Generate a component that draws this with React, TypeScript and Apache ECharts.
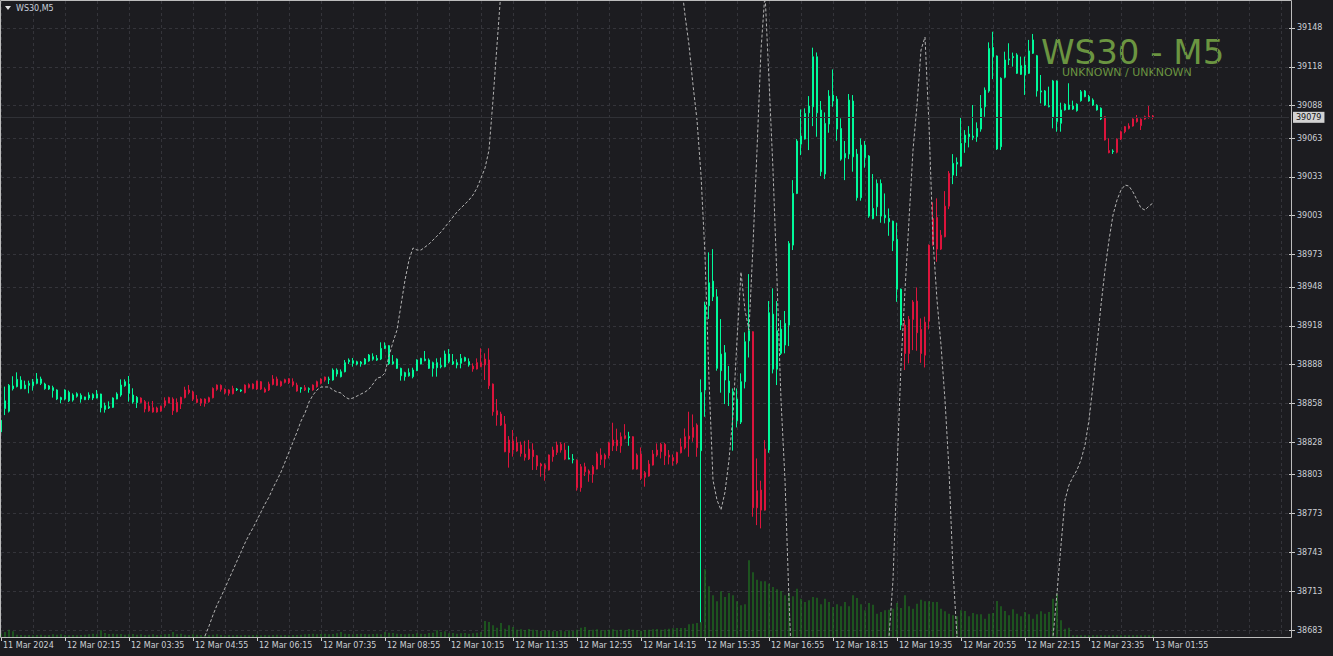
import React, { useEffect, useRef } from "react";
import * as echarts from "echarts";

const N = null;

// x-axis tick labels, one every 16 bars (bar 0 = 11 Mar 23:55)
const timeLabels = [
  "11 Mar 2024", "12 Mar 02:15", "12 Mar 03:35", "12 Mar 04:55", "12 Mar 06:15",
  "12 Mar 07:35", "12 Mar 08:55", "12 Mar 10:15", "12 Mar 11:35", "12 Mar 12:55",
  "12 Mar 14:15", "12 Mar 15:35", "12 Mar 16:55", "12 Mar 18:15", "12 Mar 19:35",
  "12 Mar 20:55", "12 Mar 22:15", "12 Mar 23:35", "13 Mar 01:55",
];

const priceTicks = [
  39148, 39118, 39088, 39063, 39033, 39003, 38973, 38948, 38918, 38888,
  38858, 38828, 38803, 38773, 38743, 38713, 38683,
];

// trend colouring runs (G = green, R = red)
const trendRuns: [string, number][] = [
  ["G", 35], ["R", 24], ["G", 2], ["R", 14], ["G", 1], ["R", 1], ["G", 1], ["R", 4],
  ["G", 36], ["R", 24], ["G", 2], ["R", 13], ["G", 1], ["R", 17], ["G", 13], ["R", 4],
  ["G", 34], ["R", 12], ["G", 38], ["R", 2], ["G", 1], ["R", 10],
];

const bodyTop = [
  38845, 38860, 38872, 38871.5, 38876.6, 38876, 38872.2, 38873.5, 38874.6, 38876.9,
  38876.9, 38873, 38871.5, 38870.2, 38868.4, 38862.5, 38868.4, 38866.6, 38864.5, 38865.5,
  38864.3, 38863, 38864.5, 38864.8, 38865.3, 38865.3, 38856.3, 38855.5, 38862.2, 38865.3,
  38872.2, 38874.8, 38873, 38864.5, 38862.7, 38862.2, 38859.4, 38856, 38854.7, 38854.5,
  38855.8, 38860.1, 38862.5, 38861.4, 38858.8, 38862.7, 38868.4, 38868.4, 38866.8, 38861.4,
  38861.4, 38861.4, 38862.4, 38869.6, 38872.2, 38872, 38868.9, 38868.4, 38869.6, 38869.1,
  38868.4, 38872.2, 38872.5, 38873, 38875.3, 38874.8, 38869.1, 38873, 38876.9, 38876.9,
  38874.8, 38876.3, 38877.1, 38874.8, 38872.2, 38870.2, 38870.2, 38869.4, 38872.2, 38874.8,
  38876.9, 38878.4, 38876.9, 38883.8, 38883.8, 38882.5, 38889.5, 38891.5, 38891, 38890.2,
  38890, 38892.3, 38895.4, 38894.1, 38892.8, 38900.5, 38902.6, 38902.6, 38890.2, 38892.3,
  38885.1, 38881.8, 38881.8, 38883.8, 38891.6, 38892.8, 38892.3, 38891.6, 38889.5, 38889.5,
  38887.2, 38896.2, 38896.2, 38890.3, 38889.5, 38892.8, 38893.4, 38890.3, 38886.9, 38889.5,
  38889.5, 38892.3, 38891.6, 38873, 38852.4, 38849.8, 38842.1, 38829.8, 38829, 38827.7,
  38825.9, 38818.9, 38822.8, 38822, 38817.6, 38811.2, 38810.4, 38818.2, 38822, 38825.9,
  38826.4, 38822, 38815.8, 38815, 38814.2, 38809.1, 38809.1, 38805.8, 38809.1, 38819.1,
  38818.1, 38818.1, 38827.6, 38829.7, 38829.7, 38832.3, 38833.1, 38832.3, 38832.3, 38818.1,
  38818.9, 38804.5, 38811.2, 38818.9, 38822, 38826.4, 38826.4, 38818.1, 38816.1, 38820.2,
  38824.5, 38832.3, 38832.8, 38839.5, 38841.3, 38866.5, 38934, 38951.2, 38952.5, 38940.4,
  38896.1, 38897.2, 38875.3, 38867.1, 38861.4, 38874.8, 38905.7, 38914.2, 38913.4, 38790.6,
  38791.1, 38822.8, 38928.1, 38927, 38914.2, 38915.4, 38919.8, 38981.6, 39020.2, 39060.7,
  39064.5, 39082, 39087.7, 39125.8, 39125.8, 39084.6, 39074.3, 39095.4, 39096.2, 39093.1,
  39070.4, 39051.1, 39092.3, 39091.6, 39050.6, 39057.6, 39057.6, 39049.1, 39008.6, 39027.9,
  39027.9, 39003.5, 39000.9, 38998.8, 38984.9, 38946.3, 38918.5, 38922.9, 38936.3, 38937.1,
  38915.2, 38920.8, 38980.3, 39000.9, 39001.7, 38988, 39010.4, 39035.7, 39043.4, 39044.2,
  39058.9, 39065.3, 39066.1, 39064.5, 39070.4, 39085.9, 39100, 39132.2, 39133, 39126.4,
  39109.1, 39123.3, 39124.1, 39125.9, 39127.2, 39118.9, 39119.4, 39130.3, 39138.8, 39126.6,
  39099.4, 39099.4, 39088, 39107.1, 39107.1, 39084.7, 39089.1, 39088.5, 39087.8, 39089.1,
  39098.8, 39099.4, 39095, 39092.4, 39088.3, 39086, 39079.5, 39053.3, 39053, 39062,
  39067.9, 39071.8, 39072.3, 39077.7, 39078.2, 39077.5, 39079.5, 39080, 39080,
];

const bodyBottom = [
  38836, 38854, 38852, 38869.4, 38871, 38869.4, 38869.4, 38872, 38871.7, 38873.5,
  38873.5, 38869.4, 38869.1, 38867.9, 38861.4, 38860.9, 38861.4, 38860.1, 38860.6, 38863.5,
  38861.4, 38860.9, 38862.2, 38862.2, 38862.2, 38854.7, 38853.4, 38854.5, 38855, 38861.4,
  38864.5, 38871.7, 38865.8, 38859.1, 38858.6, 38858.8, 38853.7, 38852.4, 38851.4, 38851.4,
  38852.2, 38856.3, 38858.3, 38852.4, 38851.6, 38857.6, 38862.5, 38866.3, 38861.4, 38858.8,
  38858.3, 38858.1, 38859.3, 38862.4, 38868.9, 38868.9, 38866.3, 38865.8, 38865.5, 38868.6,
  38867.6, 38866.3, 38870.4, 38869.4, 38869.1, 38869.1, 38866.8, 38868.4, 38872.7, 38872,
  38871.7, 38874.3, 38874, 38872.2, 38867.6, 38869.4, 38868.4, 38868.9, 38868.4, 38870.9,
  38873.5, 38876.1, 38876.3, 38876.1, 38880.7, 38878.7, 38882.5, 38890.2, 38889, 38888.4,
  38888.7, 38888.4, 38890.8, 38892.1, 38891.5, 38892.3, 38900.5, 38888.7, 38888.7, 38885.1,
  38879.4, 38878.7, 38879.4, 38878.7, 38883.3, 38888.5, 38891, 38885.1, 38885.1, 38885.6,
  38886.4, 38886.4, 38890.3, 38888.5, 38887.7, 38889, 38890.8, 38887.7, 38884.6, 38884.6,
  38886.4, 38887.7, 38871.7, 38851.6, 38849.1, 38841.3, 38820.7, 38820, 38822, 38821.3,
  38819.4, 38816.4, 38815.1, 38816.9, 38809.7, 38809.7, 38807.6, 38806.6, 38816.9, 38820.2,
  38822, 38815, 38815, 38814.5, 38792.9, 38792.9, 38805.2, 38803.9, 38803.4, 38807.3,
  38814.8, 38815, 38817.6, 38825.3, 38825.3, 38825.3, 38831, 38831.5, 38807.3, 38807.3,
  38800.1, 38800.9, 38801.9, 38810.4, 38818.1, 38820.7, 38817.6, 38816.6, 38813.5, 38812.2,
  38819.9, 38823.8, 38830.5, 38831.8, 38823.8, 38821.5, 38868.3, 38933.5, 38940.4, 38885.1,
  38883.3, 38876.1, 38866.3, 38864.5, 38844.6, 38843.6, 38874.8, 38906.4, 38777.4, 38777.4,
  38775.6, 38775.6, 38822, 38884.5, 38884.5, 38896.7, 38903.1, 38918.5, 38980.3, 39020.2,
  39058.3, 39062.2, 39082.5, 39087.2, 39082.5, 39037, 39035.2, 39073.8, 39091.6, 39069.9,
  39046.7, 39047.8, 39050.6, 39048.5, 39016.9, 39016.9, 39047.8, 39002.7, 39000.7, 39009.9,
  39002.7, 39001.4, 38998.3, 38983.7, 38946.3, 38918.5, 38896.6, 38896.6, 38922.9, 38912.6,
  38896.6, 38895.3, 38921.6, 38980.3, 38977.2, 38977.2, 38986.7, 39010.4, 39034.4, 39042.9,
  39041.3, 39059.6, 39064, 39063.5, 39064, 39069.9, 39087.2, 39099.3, 39125.8, 39054.5,
  39056.3, 39109.9, 39123.3, 39125.1, 39113, 39112.2, 39111.7, 39113, 39128.5, 39099.4,
  39098.6, 39088.5, 39087.2, 39078.8, 39075.7, 39074.4, 39084.7, 39085.2, 39085.4, 39084.2,
  39091.9, 39095, 39091.6, 39088.5, 39084.7, 39077.7, 39061.5, 39051.7, 39052.5, 39052,
  39062.3, 39067.9, 39070.5, 39072.3, 39075.7, 39072.6, 39077.7, 39078.8, 39079,
];

const highs = [
  38847, 38871, 38873, 38879, 38882, 38879, 38875.6, 38875.6, 38876.9, 38881.5,
  38878.7, 38874, 38872.2, 38871.7, 38868.9, 38863.2, 38868.9, 38867.9, 38865.8, 38866.6,
  38865.8, 38863.2, 38866.6, 38865.8, 38868.4, 38865.5, 38858.6, 38859.6, 38862.7, 38866.6,
  38876.6, 38876.6, 38879.2, 38869.7, 38863.7, 38862.7, 38860.6, 38859.4, 38859.9, 38855.5,
  38856.3, 38862.7, 38863.2, 38862.7, 38861.9, 38863.2, 38870.9, 38872.2, 38867.9, 38864.5,
  38861.9, 38861.9, 38863.2, 38870.4, 38872.7, 38872.7, 38869.6, 38868.9, 38871.7, 38869.9,
  38868.9, 38872.7, 38873.5, 38873.5, 38875.6, 38875.3, 38870.4, 38874.8, 38879.9, 38878.7,
  38875.6, 38877.1, 38877.6, 38877.4, 38874, 38870.4, 38872.2, 38870.4, 38872.7, 38875.6,
  38877.4, 38878.7, 38878.7, 38885.1, 38885.1, 38884.3, 38891.5, 38892.8, 38893.1, 38891,
  38890.8, 38893.1, 38896.2, 38896.7, 38895.4, 38905.2, 38905.2, 38903.1, 38895.4, 38892.8,
  38885.6, 38882.5, 38885.1, 38885.6, 38892.1, 38893.2, 38898.5, 38892.8, 38890.3, 38892.8,
  38893.4, 38898.8, 38900, 38896.2, 38892.1, 38896.2, 38894.1, 38892.8, 38889, 38892.8,
  38900.6, 38896.7, 38900.6, 38873.4, 38861.4, 38851.6, 38848.3, 38832.8, 38837.5, 38832.3,
  38828.5, 38829.2, 38829.8, 38827.2, 38818.2, 38812.2, 38811.7, 38818.6, 38824.6, 38828.5,
  38828, 38827.6, 38825.3, 38818.9, 38814.8, 38811.2, 38812.2, 38807, 38810.4, 38820.7,
  38823.3, 38819.4, 38828.4, 38843.1, 38838.5, 38835.6, 38842, 38836.1, 38832.7, 38819.4,
  38824, 38805.8, 38814.2, 38822, 38827.1, 38827.6, 38827.6, 38822, 38818.6, 38820.7,
  38831, 38838.7, 38851.6, 38849.5, 38842.6, 38876.6, 38936.6, 38974.7, 38977.2, 38946.3,
  38923.2, 38903.1, 38886.9, 38869.6, 38869.6, 38881.2, 38912.9, 38957.9, 38913.8, 38815.5,
  38798.3, 38829.7, 38937.1, 38946.9, 38937.1, 38922.4, 38929.4, 38983.4, 39030.5, 39062.2,
  39085.1, 39085.9, 39095.4, 39132.8, 39129.1, 39091.6, 39082.8, 39100, 39116, 39095.4,
  39078.2, 39060.7, 39097, 39096.2, 39054.5, 39062.7, 39060.7, 39049.8, 39035.2, 39031,
  39031, 39020.2, 39008.6, 38999.2, 38997.6, 38946.7, 38922.4, 38925.5, 38937.8, 38947.6,
  38923.7, 38925, 38980.8, 39013.3, 39016.4, 38991.9, 39022, 39037.5, 39050.6, 39048,
  39078.7, 39069.1, 39072.2, 39088.5, 39075.1, 39096.2, 39102.1, 39136.9, 39145.1, 39126.8,
  39109.9, 39129.7, 39136.2, 39129, 39128.5, 39125.9, 39125.9, 39138.8, 39143.4, 39127.2,
  39111.7, 39100.1, 39102.7, 39107.9, 39107.5, 39090.3, 39089.8, 39105.3, 39091.9, 39089.8,
  39100.1, 39100.1, 39096.3, 39093.7, 39089.1, 39086.7, 39080, 39062.8, 39054.3, 39062.8,
  39068.7, 39072.3, 39074.4, 39078.2, 39080.8, 39078.2, 39080.3, 39087.8, 39080.8,
];

const lows = [
  38833, 38849, 38851, 38868, 38870.4, 38869, 38869, 38865.8, 38867.9, 38872.8,
  38872.2, 38868.6, 38868.4, 38862.5, 38860.6, 38858.1, 38860.4, 38859.1, 38859.4, 38862.5,
  38858.6, 38860.6, 38860.6, 38860.6, 38861.9, 38851.1, 38850.9, 38853.7, 38854.5, 38861.2,
  38863.2, 38870.9, 38859.4, 38857.8, 38854.5, 38858.1, 38851.1, 38851.6, 38850.9, 38850.9,
  38851.6, 38854.7, 38858.1, 38849.1, 38851.1, 38853.7, 38861.9, 38865, 38859.9, 38858.1,
  38856, 38855.5, 38858.6, 38861.9, 38867.8, 38867.1, 38865, 38864, 38865, 38867.6,
  38866.8, 38865.8, 38869.6, 38868.9, 38868.4, 38868.4, 38866.3, 38867.6, 38872, 38871.4,
  38870.9, 38873.5, 38873, 38870.9, 38867.1, 38866.3, 38867.6, 38866.3, 38867.8, 38870.2,
  38872.7, 38874.8, 38873, 38875.6, 38878.7, 38878.1, 38882, 38888.4, 38886.4, 38887.4,
  38886.4, 38887.9, 38890.2, 38891, 38890.8, 38891.5, 38900, 38887.7, 38887.9, 38884.6,
  38875.6, 38875.6, 38878.7, 38877.4, 38883, 38888.2, 38890.6, 38884.6, 38878.7, 38878.7,
  38885.1, 38885.9, 38889, 38887.7, 38885.1, 38885.1, 38890.3, 38886.4, 38882.5, 38884.2,
  38886, 38876.1, 38869.1, 38848.5, 38840.8, 38840.6, 38820.3, 38808.4, 38816.9, 38820.7,
  38816.9, 38813.8, 38814.3, 38806.6, 38806.6, 38801.4, 38798.3, 38806.2, 38813, 38818.2,
  38820, 38814.2, 38814.8, 38811.7, 38790.6, 38789.8, 38801.9, 38797.5, 38796.7, 38807,
  38810.4, 38808.3, 38815.5, 38821.2, 38821.2, 38819.9, 38830.2, 38825.3, 38806.9, 38806.9,
  38798.8, 38793.7, 38801.4, 38810, 38816.8, 38815.5, 38810.4, 38810.9, 38809.9, 38810.9,
  38819.4, 38822.5, 38816.8, 38828.4, 38816.8, 38689, 38847.7, 38923.2, 38937.1, 38883.3,
  38866.3, 38857.5, 38856, 38821.5, 38839.5, 38842.1, 38869.6, 38893.5, 38770.5, 38764,
  38761.5, 38775.2, 38819.9, 38881.2, 38872.2, 38895.4, 38896.7, 38902.3, 38976.5, 39019.7,
  39049.8, 39061.8, 39053.7, 39072.2, 39064, 39033.6, 39031.3, 39067.1, 39087.2, 39060.9,
  39045.5, 39030.5, 39046.7, 39037, 39014.6, 39014.6, 39040.1, 39001.4, 39000.3, 39002.7,
  38997.6, 38997.1, 38987.5, 38975.7, 38936.5, 38914.7, 38883.8, 38888.9, 38899.2, 38898.7,
  38889.4, 38885.8, 38915.2, 38979.9, 38967.4, 38976.5, 38986.3, 39008.1, 39027.4, 39033.6,
  39040.9, 39051.6, 39055.8, 39061.4, 39060.1, 39067.9, 39079.4, 39098, 39108.5, 39053.8,
  39053.8, 39109.1, 39119.4, 39118.2, 39112.5, 39111.7, 39096.3, 39112.5, 39127.9, 39095,
  39089.8, 39087.8, 39086.7, 39070.5, 39067.9, 39067.9, 39084.2, 39084.7, 39084.7, 39083.4,
  39091.1, 39094.5, 39091.1, 39087.8, 39084.2, 39076.9, 39061.1, 39051.2, 39050.7, 39051.2,
  39061.5, 39066.7, 39069.7, 39071.8, 39074.9, 39069.2, 39077.2, 39078, 39077.5,
];

const volumes = [
  33, 50, 73, 57, 23, 20, 17, 20, 17, 20,
  23, 17, 20, 27, 23, 27, 20, 17, 20, 17,
  20, 23, 27, 33, 27, 67, 40, 30, 33, 27,
  30, 23, 27, 30, 23, 27, 20, 23, 27, 20,
  23, 27, 30, 50, 27, 33, 23, 20, 27, 23,
  20, 17, 20, 23, 27, 20, 17, 20, 17, 20,
  17, 20, 17, 20, 23, 17, 20, 17, 20, 23,
  17, 20, 17, 20, 20, 23, 27, 30, 33, 27,
  30, 33, 27, 30, 37, 50, 33, 30, 27, 30,
  33, 30, 27, 30, 33, 27, 50, 43, 40, 33,
  30, 27, 33, 30, 37, 33, 30, 40, 43, 67,
  50, 57, 37, 40, 33, 37, 40, 33, 37, 43,
  50, 160, 150, 117, 93, 140, 83, 117, 100, 73,
  77, 70, 80, 73, 67, 60, 70, 63, 57, 60,
  63, 57, 67, 60, 73, 93, 100, 70, 73, 77,
  67, 70, 73, 77, 70, 73, 67, 80, 73, 70,
  63, 70, 73, 77, 80, 73, 77, 83, 87, 90,
  90, 90, 127, 133, 140, 150, 677, 507, 417, 357,
  457, 400, 440, 417, 357, 317, 327, 767, 647, 573,
  557, 557, 533, 500, 477, 460, 417, 440, 407, 483,
  383, 350, 367, 400, 393, 327, 383, 350, 300, 327,
  307, 350, 307, 417, 390, 327, 267, 340, 323, 233,
  250, 267, 273, 283, 340, 290, 417, 307, 283, 333,
  373, 357, 357, 350, 350, 283, 257, 233, 217, 207,
  267, 260, 207, 240, 227, 227, 183, 233, 240, 360,
  307, 260, 217, 277, 233, 207, 250, 227, 183, 227,
  257, 233, 250, 383, 430, 167, 83, 93, 17, 17,
  17, 17, 17, 17, 17, 17, 17, 17, 17, 17,
  17, 17, 17, 17, 17, 17, 17, 17, 17,
];

// dotted oscillator-style line plotted on the price scale (gaps where it is far off the chart)
const dottedLine = [
  N, N, N, N, N, N, N, N, N, N,
  N, N, N, N, N, N, N, N, N, N,
  N, N, N, N, N, N, N, N, N, N,
  N, N, N, N, N, N, N, N, N, N,
  N, N, N, N, N, N, N, N, N, 38660,
  38669, 38678.4, 38686, 38694.6, 38702.3, 38708.5, 38715.4, 38722.4, 38729.3, 38736.3,
  38743.2, 38750.2, 38756.4, 38761.8, 38768, 38774.1, 38780.3, 38785.7, 38792.7, 38798.8,
  38805, 38812.7, 38820.5, 38828.2, 38835.9, 38844.4, 38850.6, 38859.1, 38864.5, 38868.4,
  38870.7, 38870.7, 38870.7, 38868.4, 38866.8, 38866.1, 38863, 38861.4, 38862.2, 38863.7,
  38865.3, 38866.8, 38869.1, 38873, 38877.6, 38878.4, 38881.5, 38894.6, 38905.4, 38914.7,
  38934, 38953.3, 38968.8, 38978.1, 38976.5, 38976.5, 38978.8, 38981.1, 38984.2, 38987.3,
  38990.4, 38994.3, 38998.1, 39002, 39005.9, 39009, 39012, 39015.1, 39019, 39024.4,
  39032.1, 39039.8, 39053.7, 39092.4, 39134.8, 39177.3, 39230, N, N, N,
  N, N, N, N, N, N, N, N, N, N,
  N, N, N, N, N, N, N, N, N, N,
  N, N, N, N, N, N, N, N, N, N,
  N, N, N, N, N, N, N, N, N, 39260,
  39185, 39158, 39134.8, 39104, 39076.9, 39034.4, 38972.6, 38876, 38798.8, 38783.4,
  38775.7, 38789.6, 38814.3, 38849, 38907, 38959.5, 38930, 38914.7, 38980, 39053.7,
  39131, 39175, 39107.8, 39038.3, 38953.3, 38860.6, 38798.8, 38706, 38628.9, N,
  N, N, N, N, N, N, N, N, N, N,
  N, N, N, N, N, N, N, N, N, N,
  N, 38613, 38677.6, 38721.6, 38806.6, 38887.7, 38945.6, 38999.7, 39053.7, 39088.5,
  39131, 39141, 39073, 38984.2, 38937.9, 38903.1, 38860.6, 38806.6, 38729.3, 38677.6,
  38613, N, N, N, N, N, N, N, N, N,
  N, N, N, N, N, N, N, N, N, N,
  N, N, 38613, 38677.6, 38711.6, 38748.6, 38783.4, 38795, 38801.2, 38806.6,
  38814.3, 38825.9, 38845.2, 38872.2, 38903.1, 38934, 38961, 38984.2, 39003.5, 39015.1,
  39022.8, 39026.7, 39025.9, 39021.3, 39015.1, 39008.9, 39007.4, 39010.5, 39012.8,
];

const SLOTS = 323; // visible bar slots including the empty chart shift on the right
const LABEL_EVERY = 16;
const GRID_EVERY = 8;
const PRICE_MIN = 38677.593;
const PRICE_MAX = 39168.855;
const VOLUME_MAX = 6360;

const GREEN = "#00fa9a";
const RED = "#dc143c";
const BG = "#1c1c20";
const TEXT = "#cdd0d6";
const FONT = "'DejaVu Sans', sans-serif";

export default function App() {
  const ref = useRef<HTMLDivElement>(null);

  useEffect(() => {
    if (!ref.current) return;
    const chart = echarts.init(ref.current, undefined, { renderer: "svg" });

    const trend: string[] = [];
    trendRuns.forEach(([t, n]) => {
      for (let k = 0; k < n; k++) trend.push(t);
    });

    const closes: number[] = [];
    const candleData = bodyTop.map((top, i) => {
      const up = trend[i] === "G";
      const col = up ? GREEN : RED;
      const open = up ? bodyBottom[i] : top;
      const close = up ? top : bodyBottom[i];
      closes.push(close);
      return {
        value: [open, close, lows[i], highs[i]],
        itemStyle: { color: col, color0: col, borderColor: col, borderColor0: col, borderColorDoji: col },
      };
    });
    const lastClose = closes[closes.length - 1];

    const cats = Array.from({ length: SLOTS }, (_, i) => String(i));
    const isLabel = (i: number) => i % LABEL_EVERY === 0 && i / LABEL_EVERY < timeLabels.length;

    const option: any = {
      animation: false,
      backgroundColor: "transparent",
      grid: { left: 1, right: 44, top: 1, bottom: 19, containLabel: false },
      xAxis: [
        {
          type: "category",
          data: cats,
          boundaryGap: false,
          axisLine: { show: false },
          axisTick: {
            show: true,
            interval: (i: number) => isLabel(i),
            length: 4,
            lineStyle: { color: "#c8c8c8", width: 1 },
          },
          axisLabel: {
            show: true,
            interval: (i: number) => isLabel(i),
            formatter: (_v: string, i: number) => (isLabel(i) ? timeLabels[i / LABEL_EVERY] : ""),
            align: "left",
            padding: [0, 0, 0, 2],
            margin: 4,
            color: TEXT,
            fontSize: 8,
            fontFamily: FONT,
          },
          splitLine: {
            show: true,
            interval: (i: number) => i % GRID_EVERY === 0,
            lineStyle: { color: "#34343a", width: 1, type: [3, 3] },
          },
        },
      ],
      yAxis: [
        {
          type: "value",
          position: "right",
          min: PRICE_MIN,
          max: PRICE_MAX,
          axisLine: { show: false },
          axisTick: {
            show: true,
            customValues: priceTicks,
            length: 6,
            lineStyle: { color: "#c8c8c8", width: 1 },
          },
          axisLabel: {
            show: true,
            customValues: priceTicks,
            formatter: (v: number) => String(v),
            margin: 8,
            color: TEXT,
            fontSize: 8,
            fontFamily: FONT,
          },
          splitLine: { show: true, lineStyle: { color: "#34343a", width: 1, type: [3, 3] } },
        },
        {
          type: "value",
          position: "right",
          min: 0,
          max: VOLUME_MAX,
          show: false,
          splitLine: { show: false },
        },
      ],
      series: [
        {
          name: "Volume",
          type: "bar",
          xAxisIndex: 0,
          yAxisIndex: 1,
          data: volumes,
          barWidth: 1,
          itemStyle: { color: "#1f8a1f" },
          z: 1,
          silent: true,
        },
        {
          name: "WS30",
          type: "candlestick",
          xAxisIndex: 0,
          yAxisIndex: 0,
          data: candleData,
          barWidth: 2,
          clip: true,
          z: 3,
          itemStyle: { borderWidth: 1 },
          markLine: {
            silent: true,
            symbol: "none",
            animation: false,
            data: [{ yAxis: lastClose }],
            lineStyle: { color: "#303136", width: 1, type: "solid" },
            label: {
              show: true,
              position: "end",
              distance: 4,
              formatter: () => String(lastClose),
              backgroundColor: "#d2d2d2",
              color: "#111111",
              fontSize: 8,
              fontFamily: FONT,
              padding: [2, 3, 1, 3],
            },
          },
        },
        {
          name: "Dotted",
          type: "line",
          xAxisIndex: 0,
          yAxisIndex: 0,
          data: dottedLine,
          showSymbol: false,
          symbol: "none",
          connectNulls: false,
          clip: true,
          lineStyle: { color: "#b2b2b2", width: 1, type: [3, 2] },
          z: 4,
          silent: true,
        },
      ],
      graphic: [
        {
          type: "rect",
          silent: true,
          z: 100,
          shape: { x: 0.5, y: 0.5, width: 1291, height: 637 },
          style: { fill: "none", stroke: "#bdbdbd", lineWidth: 1 },
        },
        {
          type: "polygon",
          silent: true,
          z: 100,
          shape: { points: [[5, 6], [11, 6], [8, 10]] },
          style: { fill: "#e0e0e0" },
        },
        {
          type: "text",
          silent: true,
          z: 100,
          x: 16,
          y: 8,
          style: { text: "WS30,M5", fill: "#c8d0dc", font: `8px ${FONT}`, verticalAlign: "middle", align: "left" },
        },
        {
          type: "text",
          silent: true,
          z: 0,
          x: 1041,
          y: 52,
          style: { text: "WS30 - M5", fill: "#6b9541", font: `34px ${FONT}`, verticalAlign: "middle", align: "left" },
        },
        {
          type: "text",
          silent: true,
          z: 0,
          x: 1062,
          y: 72,
          style: { text: "UNKNOWN / UNKNOWN", fill: "#6b9541", font: `11px ${FONT}`, verticalAlign: "middle", align: "left" },
        },
      ],
    };

    chart.setOption(option);
    return () => chart.dispose();
  }, []);

  return (
    <div
      style={{ position: "fixed", left: 0, top: 0, width: 1333, height: 656, background: BG, margin: 0, padding: 0 }}
    >
      <div ref={ref} style={{ width: 1333, height: 656 }} />
    </div>
  );
}
